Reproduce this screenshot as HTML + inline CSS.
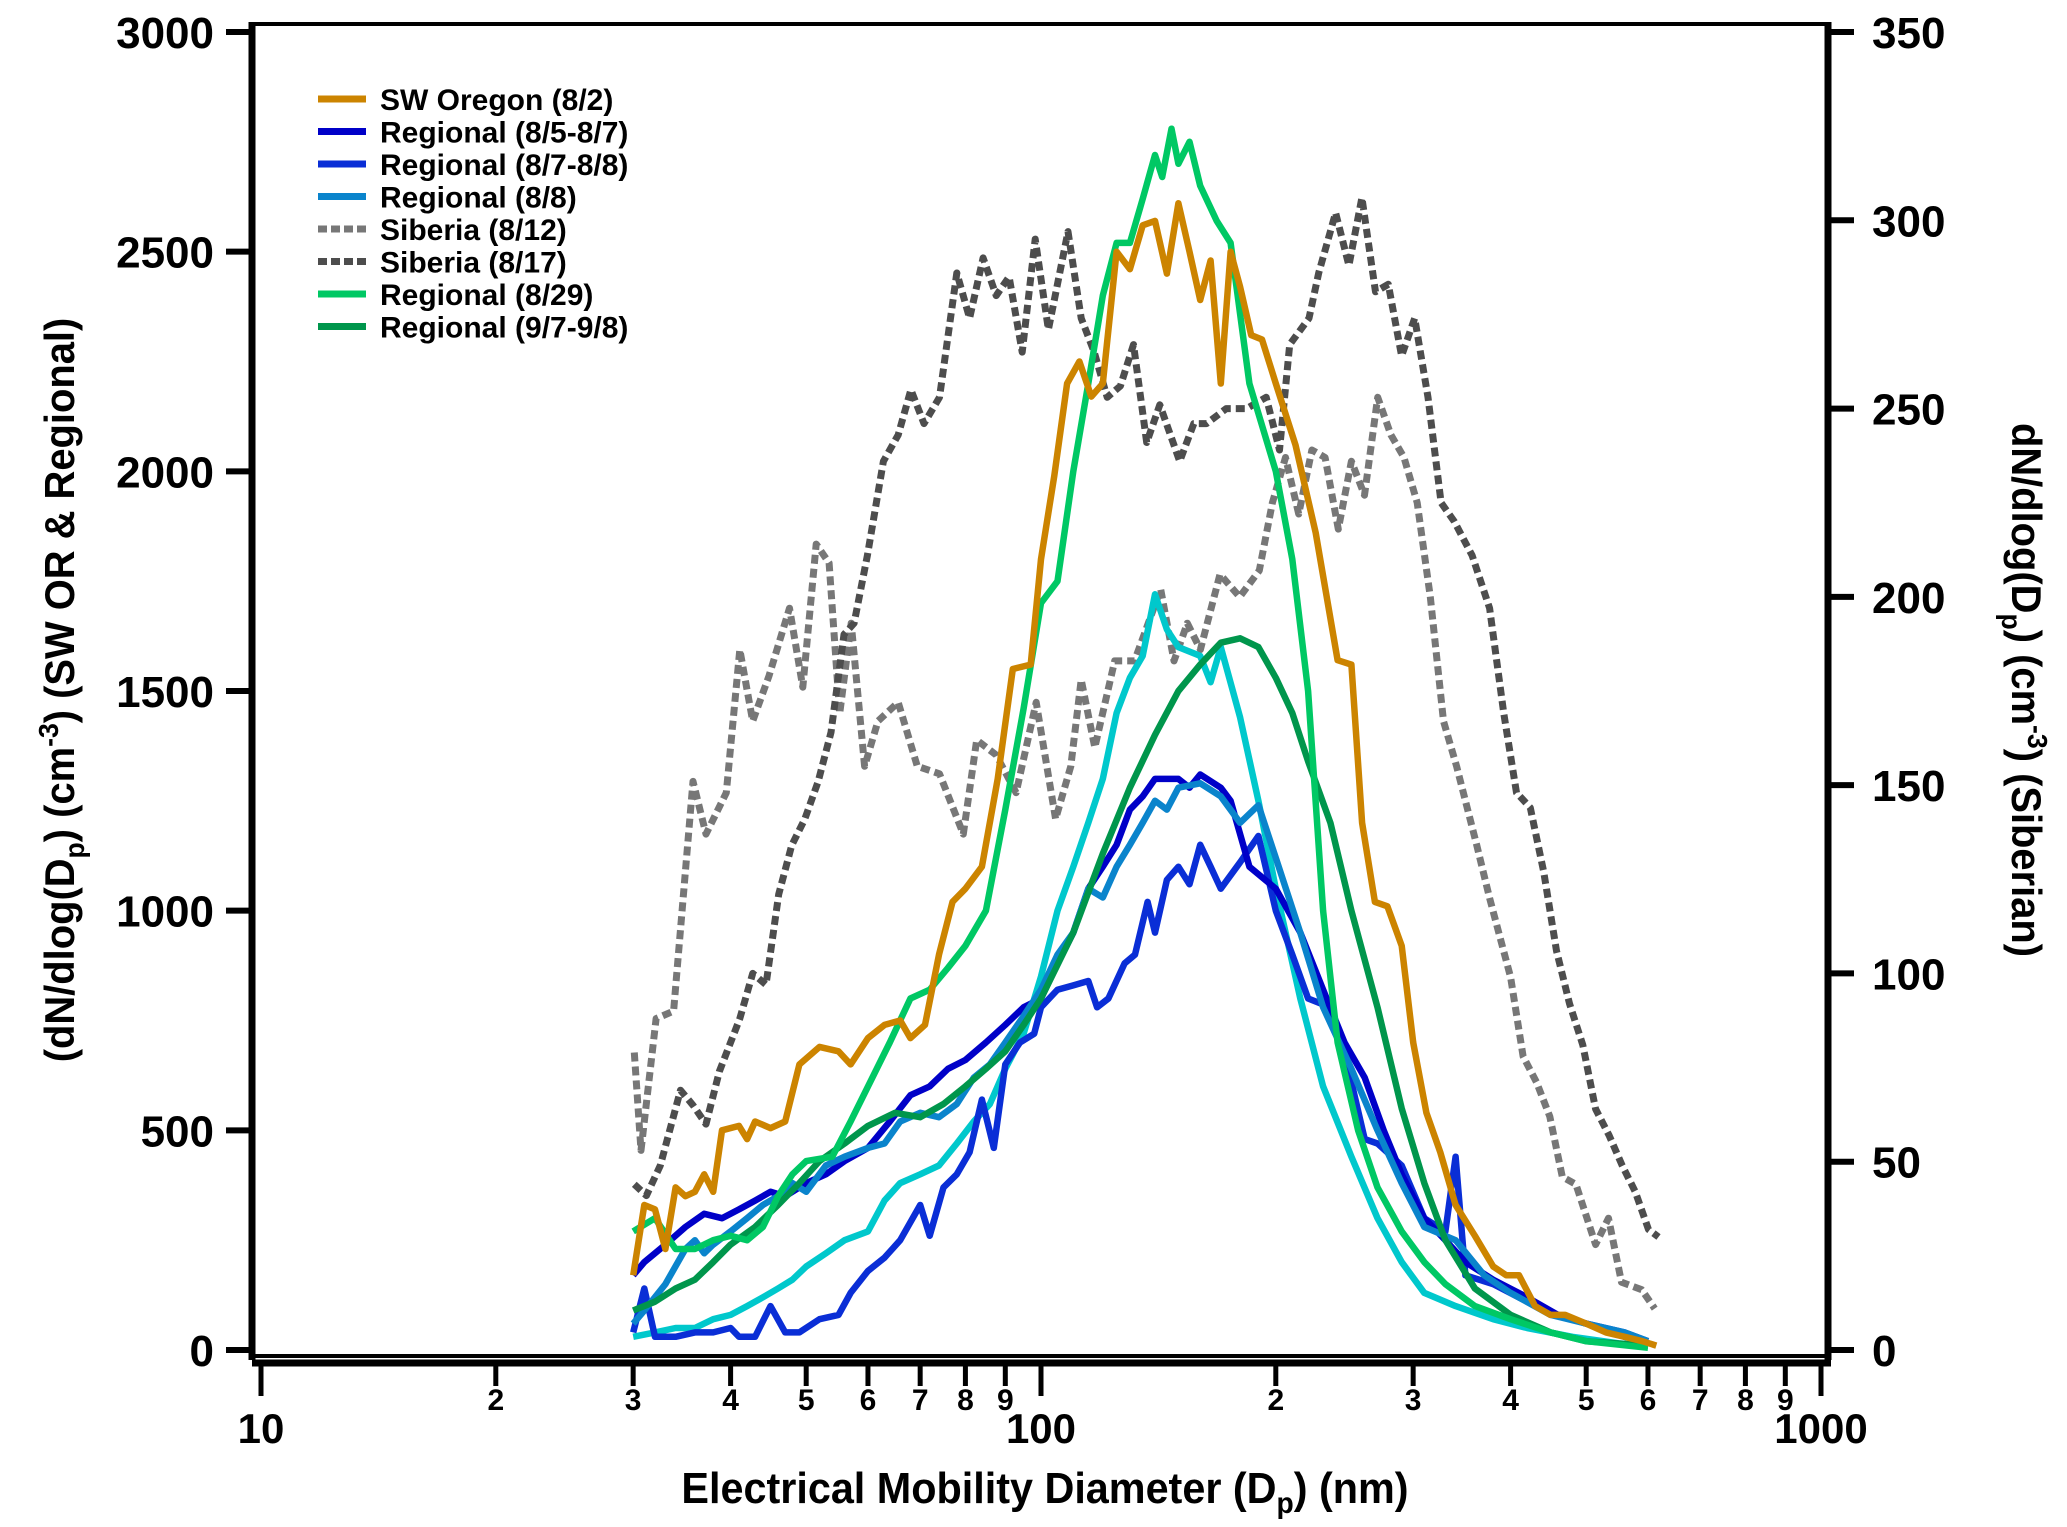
<!DOCTYPE html>
<html><head><meta charset="utf-8">
<style>
html,body{margin:0;padding:0;background:#fff;}
svg{display:block;font-family:"Liberation Sans",Arial,sans-serif;font-weight:bold;}
</style></head>
<body>
<svg id="chart" width="2067" height="1527" viewBox="0 0 2067 1527">
<g id="axes"></g>
<g id="series"></g>
<g id="legend"></g>
</svg>
<script>
// ---- data ----
const leftTicks = [0, 500, 1000, 1500, 2000, 2500, 3000];
const rightTicks = [0, 50, 100, 150, 200, 250, 300, 350];
const majorX = [10, 100, 1000];
const minorLabels = ['2','3','4','5','6','7','8','9'];

const orangeD = [30,31,32,33,34,35,36,37,38,39,41,42,43,45,47,49,52,55,57,60,63,66,68,71,74,77,80,84,88,92,97,100,104,108,112,116,120,125,130,135,140,145,150,155,160,165,170,175,180,186,192,200,212,225,240,250,258,268,278,290,300,312,325,340,360,380,395,410,430,450,470,500,530,560,590,615];
const orangeV = [170,330,320,230,370,350,360,400,360,500,510,480,520,505,520,650,690,680,650,710,740,750,710,740,900,1020,1050,1100,1300,1550,1560,1800,1990,2200,2250,2170,2200,2500,2460,2560,2570,2450,2610,2500,2390,2480,2200,2500,2420,2310,2300,2200,2060,1860,1570,1560,1200,1020,1010,920,700,540,450,330,260,190,170,170,100,80,80,60,40,30,20,10];

const lgreenD = [30,32,34,36,38,40,42,44,46,48,50,54,57,60,64,68,72,76,80,85,90,95,100,105,110,115,120,125,130,135,140,143,147,150,155,160,168,175,185,200,210,220,230,240,255,270,290,310,330,360,400,450,500,600];
const lgreenV = [270,300,230,230,250,260,250,280,350,400,430,440,520,600,700,800,820,870,920,1000,1230,1460,1700,1750,2000,2200,2400,2520,2520,2620,2720,2670,2780,2700,2750,2650,2570,2520,2200,2000,1800,1500,1000,700,500,370,270,200,150,100,70,40,20,5];

const dgreenD = [30,32,34,36,38,40,43,46,49,52,56,60,65,70,75,80,85,90,95,100,110,120,130,140,150,160,170,180,190,200,210,220,235,250,270,290,310,330,360,400,450,500,600];
const dgreenV = [90,110,140,160,200,240,280,330,380,430,470,510,540,530,560,600,640,680,740,800,950,1130,1280,1400,1500,1560,1610,1620,1600,1530,1450,1340,1200,1000,780,550,380,250,140,80,40,20,10];

const cyanD = [30,32,34,36,38,40,42,44,46,48,50,53,56,60,63,66,70,74,78,82,86,90,95,100,105,110,115,120,125,130,135,140,145,150,160,165,170,180,190,200,215,230,250,270,290,310,340,380,420,480,550,600];
const cyanV = [30,40,50,50,70,80,100,120,140,160,190,220,250,270,340,380,400,420,470,520,560,640,720,850,1000,1100,1200,1300,1450,1530,1580,1720,1640,1600,1580,1520,1600,1440,1250,1050,800,600,440,300,200,130,100,70,50,30,15,10];

const r88D = [30,31,33,35,36,37,38,40,42,44,46,48,50,53,56,60,63,66,70,74,78,82,86,90,95,100,105,110,115,120,125,130,135,140,145,150,160,170,180,190,200,215,230,250,270,290,310,340,370,400,450,500,560,600];
const r88V = [60,90,150,230,250,220,240,270,300,330,350,380,360,420,440,460,470,520,540,530,560,620,650,700,760,820,900,950,1050,1030,1100,1150,1200,1250,1230,1280,1290,1260,1200,1240,1120,950,780,640,500,380,280,250,170,130,80,60,40,20];

const r857D = [30,31,33,35,37,39,41,43,45,47,50,53,56,60,64,68,72,76,80,85,90,95,100,105,110,115,120,125,130,135,140,150,155,160,170,175,185,200,215,230,245,260,275,290,310,330,350,380,420,460,500,560,600];
const r857V = [170,200,240,280,310,300,320,340,360,350,380,400,430,460,520,580,600,640,660,700,740,780,800,880,950,1050,1100,1150,1230,1260,1300,1300,1280,1310,1280,1250,1100,1050,950,820,700,620,500,400,300,250,200,160,120,80,60,30,20];

const r878D = [30,31,32,34,36,38,40,41,43,45,47,49,52,55,57,60,63,66,70,72,75,78,81,84,87,90,94,98,100,105,110,115,118,122,128,132,137,140,145,150,155,160,165,170,180,190,200,210,220,235,250,260,270,290,310,330,340,350,380,420,460,500,560,600];
const r878V = [40,140,30,30,40,40,50,30,30,100,40,40,70,80,130,180,210,250,330,260,370,400,450,570,460,650,700,720,780,820,830,840,780,800,880,900,1020,950,1070,1100,1060,1150,1100,1050,1110,1170,1000,900,800,780,610,480,470,420,300,270,440,170,150,110,80,60,40,20];

const sib12D = [30.1,30.7,32.1,33.8,35.8,37.2,39.5,41.1,42.7,44.8,47.6,49.5,51.5,53.5,55.2,57.1,59.4,61.8,65.6,69.4,74.1,79.5,82.7,87.6,92.9,98.6,104.4,109.2,112.6,117.2,124.3,131.8,142.4,148.1,154,160.1,169.6,179.8,190.5,198,205.8,214,222.5,231.3,240.5,250,259.9,270.2,280.9,292,303.6,315.6,328.1,341.1,362,376,400,415,432,449,466,485,514,534,555,589,612];
const sib12V = [79,53,88,90,151,137,148,186,167,179,197,176,214,209,169,193,155,167,172,155,153,137,162,158,148,172,141,155,178,160,183,183,202,183,193,186,206,200,207,225,237,222,239,237,218,236,227,253,243,237,225,200,167,155,134,120,99,78,71,62,46,44,28,35,18,16,11];

const sib17D = [30.1,31.2,32.5,34.5,35.8,37.2,38.7,41.1,42.7,44.4,46.1,47.9,49.8,51.8,53.8,55.9,57.6,59.9,62.8,65.6,68.1,70.8,74.1,78,81,84.3,87.6,91,94.6,98.3,102.2,108.3,112.6,117,121.6,126.4,131.4,136.6,142,150.6,157,163,172.8,183.5,194.4,202.2,208.4,220.6,227,238.6,248.2,257.9,268.4,278.8,289.9,301.4,313.4,325.8,338.7,357,376,392,407,424,441,458,476,495,514,535,556,578,601,619];
const sib17V = [44,41,49,69,65,60,74,88,100,97,121,134,141,151,164,190,193,211,236,243,255,246,253,286,274,290,280,285,265,295,271,297,274,265,253,256,267,241,251,236,246,246,250,250,253,239,267,274,286,302,288,306,281,283,264,274,253,225,220,211,197,169,148,144,127,106,92,81,64,57,49,42,32,30];

// ---- scales ----
const X0 = 261, DEC = 780;
const YL0 = 1350, YLT = 32;
function xs(d){ return X0 + DEC*Math.log10(d/10); }
function yl(v){ return YL0 - (v/3000)*(YL0-YLT); }
function yr(v){ return YL0 - (v/350)*(YL0-YLT); }

const NS = 'http://www.w3.org/2000/svg';
function mk(tag, attrs, parent){
  const e = document.createElementNS(NS, tag);
  for (const k in attrs) e.setAttribute(k, attrs[k]);
  parent.appendChild(e); return e;
}
const axes = document.getElementById('axes');
const series = document.getElementById('series');
const legend = document.getElementById('legend');

// frame
const PL = 252, PR = 1828, PT = 24, PB = 1356;
let fr = mk('rect', {x:PL, y:PT, width:PR-PL, height:PB-PT, fill:'none', stroke:'#000', 'stroke-width':4}, axes);


let la = mk('line', {x1:PL, y1:PT-2, x2:PL, y2:PB+4, stroke:'#000', 'stroke-width':7}, axes);


let ra = mk('line', {x1:PR, y1:PT-2, x2:PR, y2:PB+4, stroke:'#000', 'stroke-width':7}, axes);


let xa = mk('line', {x1:PL, y1:1363, x2:PR+3, y2:1363, stroke:'#000', 'stroke-width':7}, axes);



leftTicks.forEach(v => {
  const y = yl(v);
  const t = mk('line', {x1:PL-26, y1:y, x2:PL, y2:y, stroke:'#000', 'stroke-width':6}, axes);
  
  
  const l = mk('text', {x:PL-38, y:y+16, 'text-anchor':'end', 'font-size':44}, axes);
  l.textContent = v;
  
  
});
rightTicks.forEach(v => {
  const y = yr(v);
  const t = mk('line', {x1:PR, y1:y, x2:PR+26, y2:y, stroke:'#000', 'stroke-width':6}, axes);
  
  
  const l = mk('text', {x:PR+44, y:y+16, 'text-anchor':'start', 'font-size':44}, axes);
  l.textContent = v;
  
  
});
majorX.forEach(v => {
  const x = xs(v);
  const t = mk('line', {x1:x, y1:1363, x2:x, y2:1396, stroke:'#000', 'stroke-width':5}, axes);
  
  
  const l = mk('text', {x:x, y:1443, 'text-anchor':'middle', 'font-size':42}, axes);
  l.textContent = v;
  
  
});
[10,100].forEach(base => {
  minorLabels.forEach(s => {
    const x = xs(base*Number(s));
    const t = mk('line', {x1:x, y1:1363, x2:x, y2:1386, stroke:'#000', 'stroke-width':5}, axes);
    
    
    const l = mk('text', {x:x, y:1410, 'text-anchor':'middle', 'font-size':30}, axes);
    l.textContent = s;
    
    
  });
});

// axis titles
let xt = mk('text', {x:1045, y:1503, 'text-anchor':'middle', 'font-size':44, transform:'translate(1045,0) scale(0.94,1) translate(-1045,0)'}, axes);
xt.innerHTML = 'Electrical Mobility Diameter (D<tspan dy="10" font-size="30">p</tspan><tspan dy="-10">) (nm)</tspan>';


let ylt = mk('text', {x:0, y:0, 'text-anchor':'middle', 'font-size':42, transform:'translate(74,690) rotate(-90) scale(0.95,1)'}, axes);
ylt.innerHTML = '(dN/dlog(D<tspan dy="10" font-size="28">p</tspan><tspan dy="-10">) (cm</tspan><tspan dy="-16" font-size="28">-3</tspan><tspan dy="16">) (SW OR &amp; Regional)</tspan>';


let yrt = mk('text', {x:0, y:0, 'text-anchor':'middle', 'font-size':42, transform:'translate(2012,690) rotate(90) scale(0.95,1)'}, axes);
yrt.innerHTML = 'dN/dlog(D<tspan dy="10" font-size="28">p</tspan><tspan dy="-10">) (cm</tspan><tspan dy="-16" font-size="28">-3</tspan><tspan dy="16">) (Siberian)</tspan>';



// series
function drawSeries(ds, vs, color, yfn, dashed, name){
  const pts = ds.map((d,i) => xs(d).toFixed(1)+','+yfn(vs[i]).toFixed(1)).join(' ');
  const attrs = {points:pts, fill:'none', stroke:color, 'stroke-width':dashed?7:6.5, 'stroke-linejoin':'round'};
  if (dashed) attrs['stroke-dasharray'] = '9 5';
  const p = mk('polyline', attrs, series);
  
  
}
drawSeries(sib12D, sib12V, '#777777', yr, true, 'series-siberia-8-12');
drawSeries(sib17D, sib17V, '#4d4d4d', yr, true, 'series-siberia-8-17');
drawSeries(cyanD, cyanV, '#00c8cc', yl, false, 'series-regional-cyan');
drawSeries(r878D, r878V, '#0a2ed6', yl, false, 'series-regional-8-7-8-8');
drawSeries(r857D, r857V, '#0000c8', yl, false, 'series-regional-8-5-8-7');
drawSeries(r88D, r88V, '#0a84cc', yl, false, 'series-regional-8-8');
drawSeries(dgreenD, dgreenV, '#00964c', yl, false, 'series-regional-9-7-9-8');
drawSeries(lgreenD, lgreenV, '#00c864', yl, false, 'series-regional-8-29');
drawSeries(orangeD, orangeV, '#cc8400', yl, false, 'series-sw-oregon-8-2');

// legend
const legLabels = ['SW Oregon (8/2)','Regional (8/5-8/7)','Regional (8/7-8/8)','Regional (8/8)','Siberia (8/12)','Siberia (8/17)','Regional (8/29)','Regional (9/7-9/8)'];
const legColors = ['#cc8400','#0000c8','#0a2ed6','#0a84cc','#777777','#4d4d4d','#00c864','#00964c'];
legLabels.forEach((lab,i) => {
  const y = 99 + i*32.5;
  const ln = mk('line', {x1:318, y1:y, x2:366, y2:y, stroke:legColors[i], 'stroke-width':7}, legend);
  if (i===4 || i===5) ln.setAttribute('stroke-dasharray','9 4');
  
  
  const t = mk('text', {x:380, y:y+11, 'font-size':30}, legend);
  t.textContent = lab;
  
  
});
</script>
</body></html>
